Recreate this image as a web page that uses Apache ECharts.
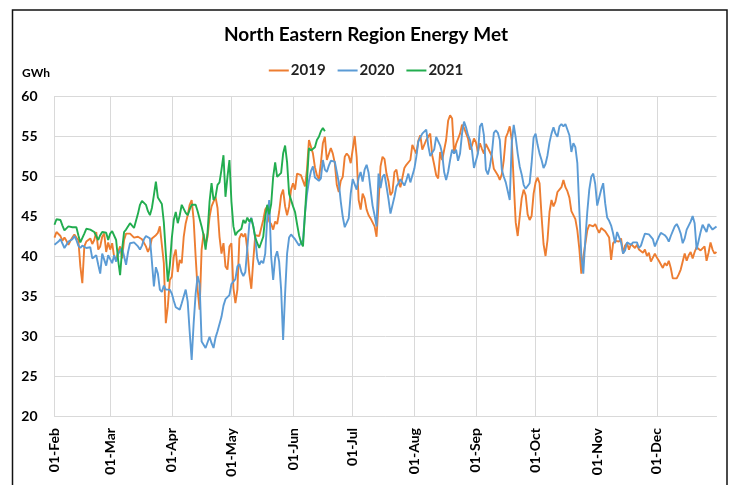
<!DOCTYPE html>
<html>
<head>
<meta charset="utf-8">
<script src="https://cdn.jsdelivr.net/npm/echarts@6/dist/echarts.min.js"></script>
<style>
  html, body { margin: 0; padding: 0; background: #fff; }
  #chart { width: 732px; height: 485px; }
</style>
</head>
<body>
<div id="chart"></div>
<script>
// month names and lengths used for the daily category axis (01-Feb .. 31-Dec)
const monthNames = ['Feb', 'Mar', 'Apr', 'May', 'Jun', 'Jul', 'Aug', 'Sep', 'Oct', 'Nov', 'Dec']
const monthDays = [28, 31, 30, 31, 30, 31, 31, 30, 31, 30, 31]
const yTicks = [20, 25, 30, 35, 40, 45, 50, 55, 60]

// daily energy met, GWh
const y2019 = [
  42.3, 43.0, 42.8, 42.5, 41.9, 42.3, 41.9, 41.4, 41.9, 42.3,
  42.7, 42.3, 42.0, 38.7, 36.6, 41.2, 41.8, 42.0, 42.2, 41.5,
  42.0, 43.0, 40.8, 41.2, 42.4, 42.8, 40.5, 41.7, 40.8, 41.6,
  39.9, 39.5, 40.5, 41.2, 39.7, 42.0, 42.8, 43.0, 42.8, 42.6,
  42.3, 42.2, 42.4, 42.2, 42.1, 42.2, 41.2, 40.5, 41.1, 42.2,
  42.4, 42.6, 42.9, 43.7, 43.9, 39.1, 31.6, 33.7, 37.0, 37.4,
  39.9, 40.8, 38.0, 39.5, 39.1, 42.4, 44.1, 45.1, 46.4, 47.0,
  44.5, 39.9, 35.8, 33.3, 40.8, 42.8, 41.4, 42.4, 44.9, 46.2,
  46.8, 47.4, 46.0, 42.4, 40.3, 41.6, 38.7, 38.3, 41.2, 41.6,
  36.0, 34.1, 35.8, 42.2, 42.8, 42.4, 42.8, 40.8, 37.8, 35.9,
  39.5, 42.6, 42.5, 42.5, 42.6, 44.5, 45.8, 46.2, 44.3, 44.0,
  43.3, 44.3, 44.0, 45.5, 47.6, 48.3, 46.2, 45.1, 46.2, 48.3,
  49.1, 48.3, 50.3, 50.3, 50.1, 49.9, 48.7, 50.8, 54.5, 54.3,
  52.8, 51.1, 50.1, 49.6, 51.6, 54.1, 54.9, 52.0, 51.8, 53.5,
  52.8, 51.6, 48.9, 48.0, 49.4, 49.9, 52.4, 52.8, 52.5, 51.6,
  51.8, 55.0, 52.4, 47.0, 45.8, 47.8, 47.2, 45.8, 45.1, 44.7,
  44.9, 43.7, 42.4, 46.6, 51.2, 52.4, 52.1, 50.3, 49.3, 47.6,
  48.0, 50.5, 50.8, 49.3, 48.6, 49.8, 51.0, 51.4, 51.3, 52.0,
  53.9, 53.8, 52.8, 54.4, 55.1, 53.3, 53.5, 54.5, 54.9, 55.3,
  52.6, 51.4, 50.1, 49.7, 53.0, 52.0, 52.0, 54.5, 56.9, 57.6,
  57.2, 52.8, 54.0, 54.0, 55.3, 56.4, 56.0, 56.2, 54.7, 53.3,
  53.8, 54.7, 54.2, 53.0, 54.1, 53.4, 52.8, 54.0, 53.5, 53.7,
  52.5, 50.9, 50.7, 50.1, 49.5, 50.2, 52.0, 54.8, 55.4, 56.2,
  54.5, 49.2, 44.2, 42.5, 44.9, 47.2, 48.3, 47.6, 45.2, 44.5,
  45.0, 47.8, 49.2, 49.8, 49.1, 45.0, 41.5, 40.0, 42.0, 45.5,
  47.0, 46.2, 46.8, 48.0, 48.3, 48.6, 49.5, 48.6, 48.1, 47.3,
  45.6, 45.8, 44.6, 43.2, 40.9, 37.8, 39.9, 41.5, 43.2, 43.9,
  43.9, 43.7, 44.0, 43.4, 42.9, 43.5, 43.5, 43.1, 43.1, 42.3,
  39.5, 41.6, 41.9, 41.7, 41.8, 42.2, 40.3, 41.3, 41.6, 40.8,
  41.5, 41.3, 41.0, 41.4, 40.8, 40.8, 40.4, 40.8, 40.0, 40.4,
  39.3, 39.8, 40.3, 39.8, 39.4, 39.5, 38.5, 39.1, 38.8, 39.4,
  38.5, 37.2, 37.4, 37.2, 37.7, 38.3, 39.3, 40.3, 39.4, 40.1,
  40.5, 39.7, 40.5, 41.1, 41.1, 40.7, 40.7, 41.2, 39.4, 40.4,
  41.7, 40.8, 40.3, 40.5
]
const y2020 = [
  41.4, 41.6, 41.8, 42.1, 42.0, 41.0, 40.8, 41.8, 41.9, 42.1,
  42.5, 42.0, 41.3, 41.0, 41.3, 41.2, 41.0, 40.8, 41.1, 39.7,
  39.7, 40.1, 38.9, 37.8, 40.3, 40.5, 38.8, 40.1, 40.2, 39.1,
  40.1, 39.3, 40.2, 40.7, 41.0, 40.8, 38.9, 40.5, 41.6, 41.7,
  41.7, 41.9, 41.2, 40.8, 41.3, 42.1, 42.5, 42.7, 42.2, 39.3,
  36.2, 38.6, 37.8, 35.8, 35.5, 36.3, 35.8, 35.9, 35.8, 35.3,
  34.4, 33.6, 33.5, 33.3, 34.1, 34.1, 35.8, 34.3, 30.5, 27.0,
  31.6, 35.3, 37.5, 36.5, 29.3, 28.9, 28.5, 28.7, 29.9, 29.1,
  28.5, 29.8, 30.6, 30.6, 32.4, 33.8, 34.6, 34.8, 35.1, 36.5,
  36.8, 37.1, 38.7, 39.0, 38.0, 37.5, 38.0, 41.0, 44.0, 44.8,
  43.7, 42.2, 39.7, 38.9, 39.4, 39.1, 40.3, 44.7, 47.0, 39.9,
  37.0, 39.8, 40.6, 39.3, 35.8, 29.5, 35.3, 40.3, 42.3, 42.7,
  42.4, 42.1, 42.1, 41.3, 41.5, 42.0, 45.3, 47.7, 49.4, 50.6,
  51.2, 49.8, 49.7, 49.4, 49.7, 52.0, 50.8, 50.5, 51.3, 51.9,
  51.8, 51.8, 50.5, 49.2, 46.8, 44.9, 43.6, 43.6, 44.7, 47.8,
  49.6, 49.6, 48.3, 49.8, 50.5, 49.3, 50.8, 51.4, 50.4, 48.3,
  46.3, 45.1, 43.7, 50.3, 48.5, 49.9, 50.2, 48.7, 47.1, 45.3,
  45.3, 47.4, 48.7, 49.1, 49.6, 49.8, 48.8, 49.5, 50.3, 49.2,
  49.2, 50.9, 52.4, 54.3, 54.8, 55.3, 55.1, 55.8, 53.8, 52.5,
  52.5, 53.3, 54.9, 55.1, 53.8, 52.8, 50.5, 49.5, 50.5, 52.0,
  53.3, 52.8, 53.3, 51.9, 52.8, 55.3, 56.8, 56.1, 55.1, 54.5,
  53.2, 51.0, 51.0, 52.8, 56.2, 56.6, 55.1, 50.8, 50.2, 51.2,
  52.8, 55.4, 55.7, 55.4, 54.5, 50.8, 49.9, 49.2, 49.3, 47.0,
  54.1, 56.4, 54.8, 52.8, 51.2, 50.2, 48.9, 48.4, 48.2, 49.1,
  51.6, 54.8, 55.3, 53.9, 52.8, 52.0, 51.0, 51.5, 52.6, 54.2,
  55.3, 56.1, 55.3, 54.9, 56.2, 56.5, 56.2, 56.5, 56.6, 55.1,
  53.0, 54.1, 53.6, 51.6, 45.8, 40.0, 37.8, 42.0, 45.5, 48.3,
  49.9, 50.3, 49.0, 46.3, 46.1, 48.3, 49.1, 46.6, 44.8, 44.4,
  43.8, 42.8, 41.6, 43.0, 42.9, 41.7, 40.3, 40.7, 41.7, 41.9,
  41.4, 41.7, 41.8, 41.7, 41.0, 41.3, 42.1, 42.8, 42.7, 42.7,
  42.5, 42.1, 41.2, 41.0, 42.4, 42.9, 42.9, 42.6, 42.3, 41.8,
  42.5, 43.1, 43.7, 44.0, 43.5, 42.8, 41.6, 42.2, 43.3, 43.8,
  44.3, 45.0, 44.1, 40.8, 41.9, 43.0, 43.9, 43.7, 43.0, 44.0,
  44.0, 43.3, 43.5, 43.7
]
const y2021 = [
  43.9, 44.6, 44.5, 44.5, 43.8, 43.2, 43.4, 43.7, 43.7, 43.6,
  43.6, 43.6, 42.6, 41.7, 41.8, 42.8, 43.4, 43.3, 43.3, 43.3,
  43.0, 42.9, 42.0, 42.6, 43.0, 43.0, 42.9, 42.0, 42.8, 43.1,
  43.2, 42.0, 39.5, 37.6, 40.8, 43.0, 43.3, 43.5, 44.1, 44.2,
  43.5, 43.7, 45.3, 46.4, 46.9, 46.8, 46.4, 45.6, 45.1, 46.0,
  47.6, 49.3, 47.3, 47.4, 46.5, 44.2, 40.3, 36.8, 38.8, 42.2,
  44.5, 45.5, 44.1, 45.1, 46.4, 46.4, 45.4, 45.1, 45.8, 46.4,
  46.3, 46.4, 45.6, 45.6, 43.7, 42.6, 40.8, 43.0, 46.8, 49.1,
  47.0, 47.4, 48.9, 49.2, 50.8, 52.6, 47.4, 49.9, 52.0, 46.8,
  43.7, 42.6, 43.0, 43.2, 43.4, 44.5, 44.1, 44.8, 44.3, 44.7,
  43.7, 42.3, 41.6, 41.0, 41.1, 42.4, 44.9, 46.4, 45.2, 46.5,
  49.9, 51.7, 49.9, 49.7, 50.4, 52.8, 53.8, 51.7, 47.8, 47.8,
  46.2, 45.5, 44.0, 42.6, 41.7, 41.2, 45.3, 49.4, 53.5, 53.2,
  53.0, 53.6, 54.5, 54.9, 55.6, 56.0, 55.6
]

// 日期类目 01-Feb ... 31-Dec
let days = []
monthNames.forEach((m, i) => {
  for (let d = 1; d <= monthDays[i]; d++) {
    days.push((d < 10 ? '0' + d : '' + d) + '-' + m)
  }
})

const isMonthStart = (index, value) => value.slice(0, 3) === '01-'
const gridColor = '#d9d9d9'
const font = 'Lato, "Open Sans", sans-serif'

let mychart = echarts.init(document.getElementById('chart'))
let option = {
  animation: false,
  backgroundColor: '#fff',
  textStyle: { fontFamily: font },
  title: {
    text: 'North Eastern Region Energy Met',
    left: 'center',
    top: 20,
    textStyle: { fontSize: 19, fontWeight: 'bold', color: '#000', fontFamily: font }
  },
  legend: {
    top: 58,
    left: 'center',
    icon: 'rect',
    itemWidth: 20,
    itemHeight: 2,
    itemGap: 12,
    textStyle: { fontSize: 15, fontWeight: 'bold', color: '#222', fontFamily: font, padding: [0, 0, 0, -3] }
  },
  graphic: [
    {
      type: 'rect',
      silent: true,
      shape: { x: 12.5, y: 10, width: 714.5, height: 490 },
      style: { fill: 'none', stroke: '#111', lineWidth: 1.5 }
    },
    {
      type: 'text',
      left: 22,
      top: 67,
      style: { text: 'GWh', font: 'bold 12px ' + font, fill: '#000' }
    }
  ],
  grid: { left: 54.5, right: 15.5, top: 96, bottom: 69, containLabel: false },
  xAxis: {
    type: 'category',
    data: days,
    boundaryGap: false,
    axisLine: { lineStyle: { color: gridColor } },
    axisTick: { show: false },
    axisLabel: {
      interval: isMonthStart,
      rotate: 90,
      margin: 12,
      fontSize: 14,
      fontWeight: 'bold',
      color: '#000',
      hideOverlap: false
    },
    splitLine: { show: true, interval: isMonthStart, lineStyle: { color: gridColor } }
  },
  yAxis: {
    type: 'value',
    min: yTicks[0],
    max: yTicks[yTicks.length - 1],
    interval: 5,
    axisLine: { show: false },
    axisTick: { show: false },
    axisLabel: { fontSize: 14, fontWeight: 'bold', color: '#000', margin: 17 },
    splitLine: { lineStyle: { color: gridColor } }
  },
  series: [
    { name: '2019', type: 'line', data: y2019, showSymbol: false, color: '#ED7D31', lineStyle: { width: 1.9 } },
    { name: '2020', type: 'line', data: y2020, showSymbol: false, color: '#5B9BD5', lineStyle: { width: 1.9 } },
    { name: '2021', type: 'line', data: y2021, showSymbol: false, color: '#22AD4F', lineStyle: { width: 1.9 } }
  ]
}
mychart.setOption(option)
</script>
</body>
</html>
